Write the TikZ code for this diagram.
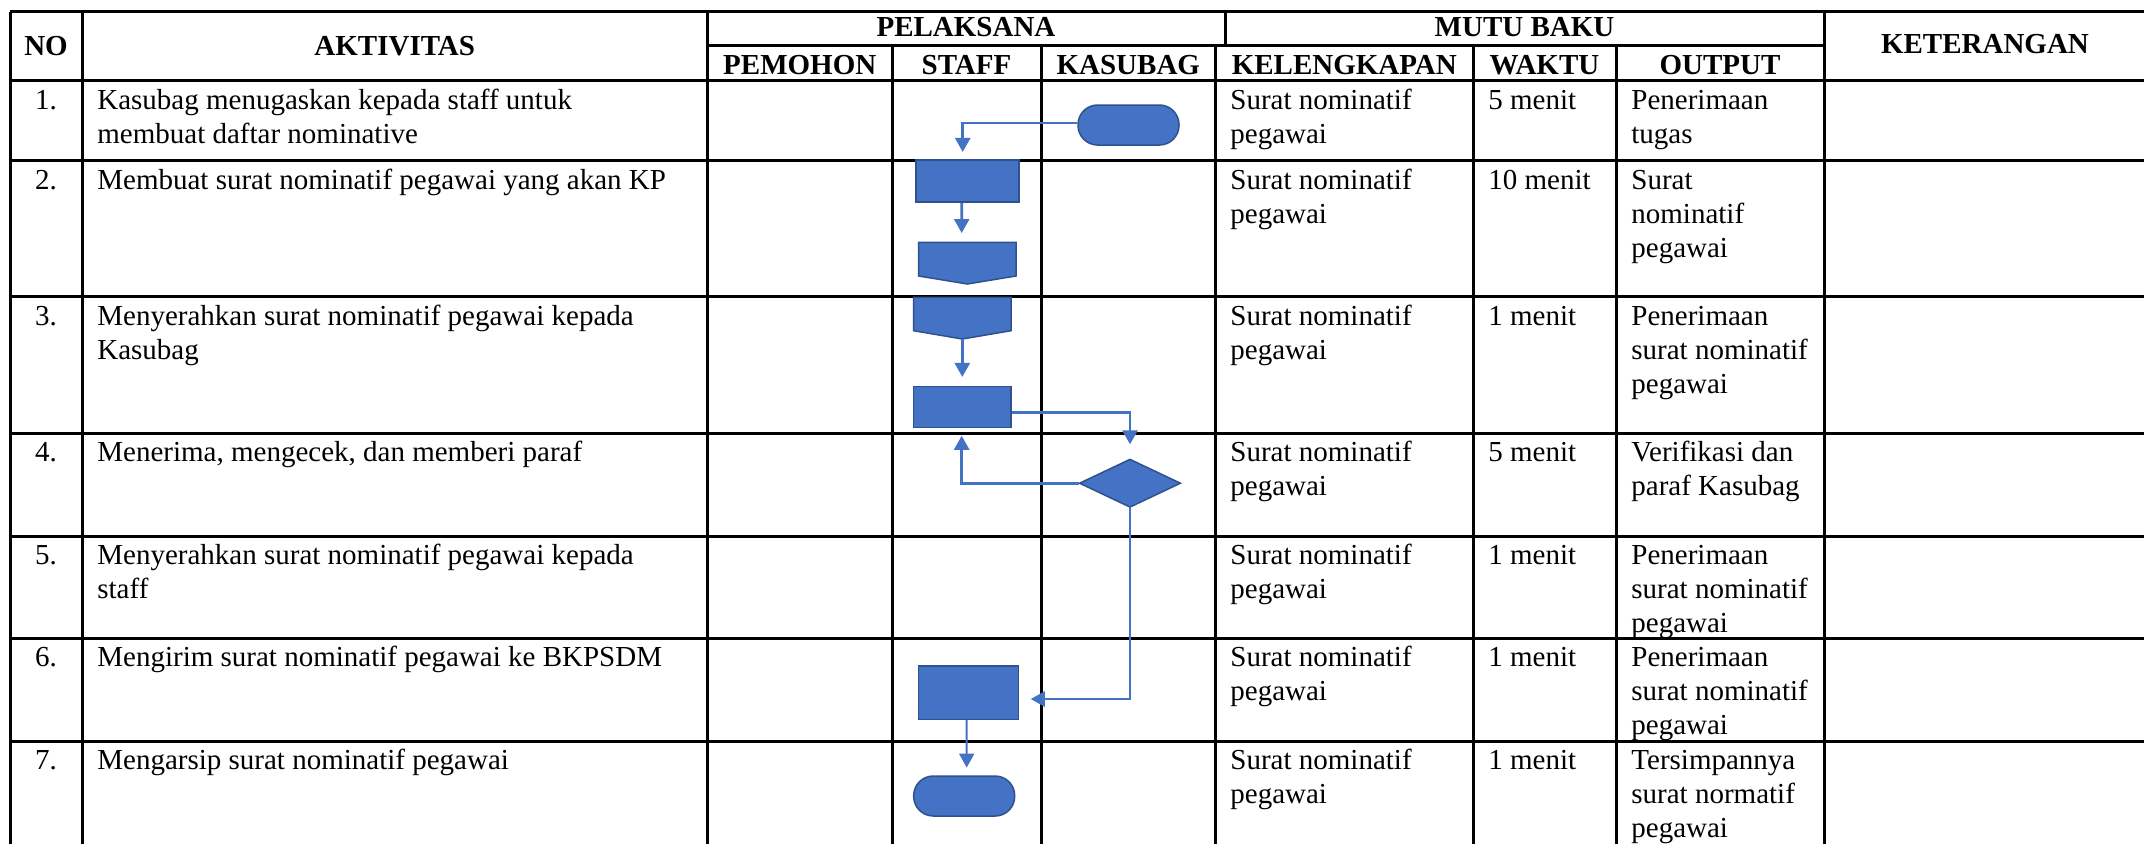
\documentclass[tikz,border=0pt]{standalone}
\usepackage{fontspec}
\setmainfont{Liberation Serif}
\usetikzlibrary{arrows.meta,shapes.geometric,calc}
\definecolor{fc}{HTML}{4472C4}
\definecolor{bc}{HTML}{2F528F}
\newcommand\fs{\fontsize{14.5pt}{17pt}\selectfont}
% #1 name prefix, #2 x, #3 row top, #4 list of lines
\newcommand\cellt[4]{\foreach \cl [count=\ci from 0] in {#4} {\node[txt] (#1-\ci) at (#2,{#3+28.5+34*\ci}) {\cl};}}
\begin{document}
\begin{tikzpicture}[x=0.5pt,y=-0.5pt,
  grid/.style={line width=1.5pt, black},
  txt/.style={anchor=base west, inner sep=0pt, font=\fs},
  num/.style={anchor=base, inner sep=0pt, font=\fs},
  hdr/.style={anchor=base, inner sep=0pt, font=\fs\bfseries},
  shp/.style={draw=bc, fill=fc, line width=0.75pt},
  proc/.style={shp, rectangle, inner sep=0pt},
  term/.style={proc, rounded corners=9.8pt},
  dec/.style={shp, diamond, inner sep=0pt},
  conn/.style={draw=fc, line width=1.35pt, -{Triangle[width=7.5pt,length=7pt]}},
]
\useasboundingbox (0,0) rectangle (2144,843);
\clip (0,0) rectangle (2144,843);
\fill[white] (0,0) rectangle (2144,843);

% ---------- table grid ----------
\draw[grid] (10,11.7) -- (2170,11.7);
\draw[grid] (707.5,45.7) -- (1824,45.7);
\foreach \yy in {80.5,160.7,296.7,433,536,638.3,741.3}
  \draw[grid] (10,\yy) -- (2170,\yy);
\foreach \xx in {10,82,707.5,1824}
  \draw[grid] (\xx,11.7) -- (\xx,860);
\foreach \xx in {892,1041,1215.7,1473,1616}
  \draw[grid] (\xx,45.7) -- (\xx,860);
\draw[grid] (1225,11.7) -- (1225,45.7);

% ---------- headers ----------
\node[hdr] (hNO) at (46,55) {NO};
\node[hdr] (hAKT) at (394.75,55) {AKTIVITAS};
\node[hdr] (hPEL) at (966,36) {PELAKSANA};
\node[hdr] (hMUT) at (1524.5,36) {MUTU BAKU};
\node[hdr] (hKET) at (1985,53) {KETERANGAN};
\node[hdr] (hPEM) at (799.75,74) {PEMOHON};
\node[hdr] (hSTA) at (966.5,74) {STAFF};
\node[hdr] (hKAS) at (1128.3,74) {KASUBAG};
\node[hdr] (hKEL) at (1344.3,74) {KELENGKAPAN};
\node[hdr] (hWAK) at (1544.5,74) {WAKTU};
\node[hdr] (hOUT) at (1720,74) {OUTPUT};

% ---------- body ----------
\node[num] (n1) at (46,109) {1.};
\node[num] (n2) at (46,189.2) {2.};
\node[num] (n3) at (46,325.2) {3.};
\node[num] (n4) at (46,461.5) {4.};
\node[num] (n5) at (46,564.5) {5.};
\node[num] (n6) at (46,666.8) {6.};
\node[num] (n7) at (46,769.8) {7.};

\cellt{a1}{97}{80.5}{Kasubag menugaskan kepada staff untuk,membuat daftar nominative}
\cellt{a2}{97}{160.7}{Membuat surat nominatif pegawai yang akan KP}
\cellt{a3}{97}{296.7}{Menyerahkan surat nominatif pegawai kepada,Kasubag}
\cellt{a4}{97}{433}{{Menerima, mengecek, dan memberi paraf}}
\cellt{a5}{97}{536}{Menyerahkan surat nominatif pegawai kepada,staff}
\cellt{a6}{97}{638.3}{Mengirim surat nominatif pegawai ke BKPSDM}
\cellt{a7}{97}{741.3}{Mengarsip surat nominatif pegawai}

\cellt{k1}{1230}{80.5}{Surat nominatif,pegawai}
\cellt{k2}{1230}{160.7}{Surat nominatif,pegawai}
\cellt{k3}{1230}{296.7}{Surat nominatif,pegawai}
\cellt{k4}{1230}{433}{Surat nominatif,pegawai}
\cellt{k5}{1230}{536}{Surat nominatif,pegawai}
\cellt{k6}{1230}{638.3}{Surat nominatif,pegawai}
\cellt{k7}{1230}{741.3}{Surat nominatif,pegawai}

\cellt{w1}{1488}{80.5}{5 menit}
\cellt{w2}{1488}{160.7}{10 menit}
\cellt{w3}{1488}{296.7}{1 menit}
\cellt{w4}{1488}{433}{5 menit}
\cellt{w5}{1488}{536}{1 menit}
\cellt{w6}{1488}{638.3}{1 menit}
\cellt{w7}{1488}{741.3}{1 menit}

\cellt{o1}{1631}{80.5}{Penerimaan,tugas}
\cellt{o2}{1631}{160.7}{Surat,nominatif,pegawai}
\cellt{o3}{1631}{296.7}{Penerimaan,surat nominatif,pegawai}
\cellt{o4}{1631}{433}{Verifikasi dan,paraf Kasubag}
\cellt{o5}{1631}{536}{Penerimaan,surat nominatif,pegawai}
\cellt{o6}{1631}{638.3}{Penerimaan,surat nominatif,pegawai}
\cellt{o7}{1631}{741.3}{Tersimpannya,surat normatif,pegawai}

% ---------- flowchart ----------
\node[term, minimum width=50.5pt, minimum height=20pt] (t1) at (1128.5,125) {};
\node[proc, minimum width=51.5pt, minimum height=21pt] (p1) at (967.5,181) {};
\draw[shp] (918.7,242.3) -- (1016,242.3) -- (1016,276) -- (967.3,284) -- (918.7,276) -- cycle;
\coordinate (op1top) at (967.3,242.3);
\draw[shp] (913.7,297.3) -- (1011,297.3) -- (1011,330.7) -- (962.3,339) -- (913.7,330.7) -- cycle;
\coordinate (op2pt) at (962.3,339);
\node[proc, minimum width=48.65pt, minimum height=20.5pt] (p2) at (962.3,407.2) {};
\node[dec, minimum width=50.7pt, minimum height=24.15pt] (d) at (1130,483.2) {};
\node[proc, minimum width=49.8pt, minimum height=26.65pt] (p3) at (968.5,692.7) {};
\node[term, minimum width=50.5pt, minimum height=20pt] (t2) at (964.2,796) {};

\draw[conn, shorten >=3.65pt] ($(t1.west)+(0,-2)$) -| ($(p1.north)+(-4.8,0)$);
\draw[conn, shorten >=4.65pt] ($(p1.south)+(-5.8,0)$) -- ($(op1top)+(-5.6,0)$);
\draw[conn, shorten >=4.5pt] (op2pt) -- (p2.north);
\draw[conn, shorten >=7pt] ($(p2.east)+(0,5.5)$) -| (d.north);
\draw[conn, shorten >=3.65pt] (d.west) -| ($(p2.south)+(-0.6,0)$);
\draw[conn, shorten >=5.85pt] (d.south) |- ($(p3.east)+(0,6.3)$);
\draw[conn, line width=1pt, shorten >=3.85pt] ($(p3.south)+(-1.8,0)$) -- ($(t2.north)+(2.5,0)$);
\end{tikzpicture}
\end{document}
